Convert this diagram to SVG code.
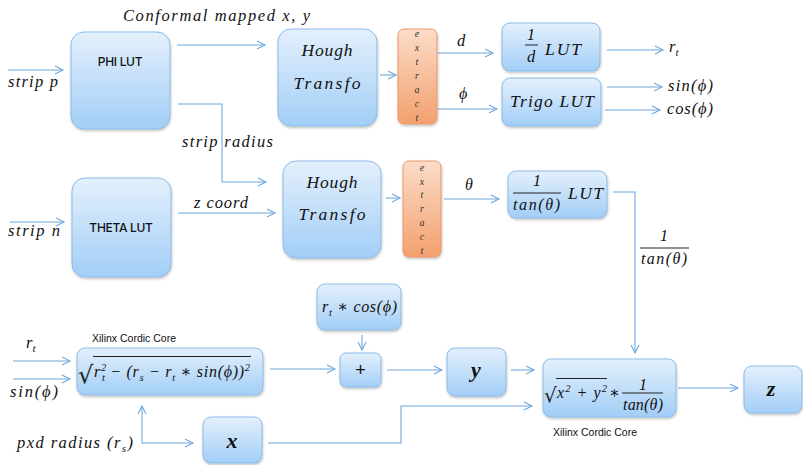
<svg xmlns="http://www.w3.org/2000/svg" width="803" height="465" viewBox="0 0 803 465">
<style>
.box{fill:url(#bg);stroke:#8cbbe6;stroke-width:1;filter:url(#sh)}
.ext{fill:url(#og);stroke:#e8986c;stroke-width:1;filter:url(#sh)}
.c{fill:none;stroke:#6fa8dc;stroke-width:1.1}
.m{font-family:"Liberation Serif","DejaVu Serif",serif;font-style:italic;fill:#111}
.s{font-family:"Liberation Sans","Open Sans",sans-serif;fill:#111}
.b{font-family:Inter,"Liberation Sans",sans-serif;font-weight:500;fill:#111}
.el{font-family:"Liberation Serif",serif;font-style:italic;font-size:10px;fill:#333;text-anchor:middle}
.fl{stroke:#222;stroke-width:1}
</style>
<defs>
<linearGradient id="bg" x1="0" y1="0" x2="0" y2="1">
<stop offset="0" stop-color="#e4f0fc"/>
<stop offset="1" stop-color="#a2cef7"/>
</linearGradient>
<linearGradient id="og" x1="0" y1="0" x2="0" y2="1">
<stop offset="0" stop-color="#fcdcc8"/>
<stop offset="1" stop-color="#f3a06e"/>
</linearGradient>
<filter id="sh" x="-20%" y="-20%" width="140%" height="150%">
<feDropShadow dx="0.5" dy="1.5" stdDeviation="1.2" flood-color="#000" flood-opacity="0.25"/>
</filter>
<marker id="a" markerUnits="userSpaceOnUse" markerWidth="12" markerHeight="12" refX="9" refY="5" orient="auto">
<path d="M1,1 L9,5 L1,9" fill="none" stroke="#6fa8dc" stroke-width="1.1"/>
</marker>
<marker id="as" markerUnits="userSpaceOnUse" markerWidth="12" markerHeight="12" refX="9" refY="5" orient="auto-start-reverse">
<path d="M1,1 L9,5 L1,9" fill="none" stroke="#6fa8dc" stroke-width="1.1"/>
</marker>
</defs>
<rect width="803" height="465" fill="#fff"/>

<g id="connectors">
<path class="c" d="M8,70 H63" marker-end="url(#a)"/>
<path class="c" d="M177,45 H265" marker-end="url(#a)"/>
<path class="c" d="M178,104 H222 V182 H266" marker-end="url(#a)"/>
<path class="c" d="M380,75 H396" marker-end="url(#a)"/>
<path class="c" d="M438,53 H493" marker-end="url(#a)"/>
<path class="c" d="M438,109 H497" marker-end="url(#a)"/>
<path class="c" d="M607,50 H663" marker-end="url(#a)"/>
<path class="c" d="M607,87 H662" marker-end="url(#a)"/>
<path class="c" d="M605,110 H660" marker-end="url(#a)"/>
<path class="c" d="M10,222 H64" marker-end="url(#a)"/>
<path class="c" d="M178,213 H275" marker-end="url(#a)"/>
<path class="c" d="M386,198 H400" marker-end="url(#a)"/>
<path class="c" d="M444,199 H499" marker-end="url(#a)"/>
<path class="c" d="M613,192 H635 V353" marker-end="url(#a)"/>
<path class="c" d="M13,361 H70" marker-end="url(#a)"/>
<path class="c" d="M13,379 H70" marker-end="url(#a)"/>
<path class="c" d="M270,369 H335" marker-end="url(#a)"/>
<path class="c" d="M362,335 V350" marker-end="url(#a)"/>
<path class="c" d="M387,370 H442" marker-end="url(#a)"/>
<path class="c" d="M511,370 H534" marker-end="url(#a)"/>
<path class="c" d="M142,406 V443 H193" marker-start="url(#as)" marker-end="url(#a)"/>
<path class="c" d="M268,443 H401 V406 H532" marker-end="url(#a)"/>
<path class="c" d="M678,388 H738" marker-end="url(#a)"/>
</g>

<g id="labels">
<text class="m" x="123" y="21" font-size="16.5" textLength="187" lengthAdjust="spacing">Conformal mapped x, y</text>
<text class="m" x="8" y="87" font-size="16.5" textLength="50" lengthAdjust="spacing">strip p</text>
<text class="m" x="182" y="147" font-size="16.5" textLength="91" lengthAdjust="spacing">strip radius</text>
<text class="m" x="8" y="236" font-size="16.5" textLength="52" lengthAdjust="spacing">strip n</text>
<text class="m" x="194" y="208" font-size="16.5" textLength="54" lengthAdjust="spacing">z coord</text>
<text class="m" x="457" y="46" font-size="16.5">d</text>
<text class="m" x="459" y="99" font-size="16">ϕ</text>
<text class="m" x="465" y="190" font-size="16">θ</text>
<text class="m" x="669" y="52" font-size="16.5">r<tspan font-size="11" dy="4">t</tspan></text>
<text class="m" x="668" y="91" font-size="16.5" textLength="45" lengthAdjust="spacing">sin(ϕ)</text>
<text class="m" x="667" y="114" font-size="16.5" textLength="46" lengthAdjust="spacing">cos(ϕ)</text>
<text class="m" x="664" y="241" font-size="16" text-anchor="middle" font-style="normal">1</text>
<line class="fl" x1="640" y1="248" x2="689" y2="248"/>
<text class="m" x="641" y="264" font-size="16" textLength="46" lengthAdjust="spacing">tan(θ)</text>
<text class="m" x="26" y="348" font-size="16.5">r<tspan font-size="11" dy="4">t</tspan></text>
<text class="m" x="10" y="397" font-size="16.5" textLength="48" lengthAdjust="spacing">sin(ϕ)</text>
<text class="m" x="17" y="448" font-size="16.5" textLength="116" lengthAdjust="spacing">pxd radius (r<tspan font-size="11" dy="4">s</tspan><tspan dy="-4">)</tspan></text>
<text class="s" x="92" y="342" font-size="10.5">Xilinx Cordic Core</text>
<text class="s" x="553" y="436" font-size="10.5">Xilinx Cordic Core</text>
</g>

<g id="phi-lut">
<rect class="box" x="71" y="32" width="99" height="97" rx="13"/>
<text class="b" x="120" y="66" font-size="12" text-anchor="middle" letter-spacing="-0.3">PHI LUT</text>
</g>
<g id="theta-lut">
<rect class="box" x="72" y="178" width="99" height="99" rx="13"/>
<text class="b" x="121" y="232" font-size="12" text-anchor="middle" letter-spacing="-0.3">THETA LUT</text>
</g>
<g id="hough1">
<rect class="box" x="278" y="29" width="99" height="97" rx="13"/>
<text class="m" x="327" y="56" font-size="17.5" text-anchor="middle" textLength="51" lengthAdjust="spacing">Hough</text>
<text class="m" x="327" y="89" font-size="17.5" text-anchor="middle" textLength="67" lengthAdjust="spacing">Transfo</text>
</g>
<g id="hough2">
<rect class="box" x="283" y="161" width="98" height="97" rx="13"/>
<text class="m" x="332" y="188" font-size="17.5" text-anchor="middle" textLength="51" lengthAdjust="spacing">Hough</text>
<text class="m" x="332" y="220" font-size="17.5" text-anchor="middle" textLength="67" lengthAdjust="spacing">Transfo</text>
</g>
<g id="extract1">
<rect class="ext" x="398" y="29" width="39" height="95" rx="6"/>
<text class="el" x="417" y="37">e</text>
<text class="el" x="417" y="51">x</text>
<text class="el" x="417" y="65">t</text>
<text class="el" x="417" y="79">r</text>
<text class="el" x="417" y="93">a</text>
<text class="el" x="417" y="107">c</text>
<text class="el" x="417" y="121">t</text>
</g>
<g id="extract2">
<rect class="ext" x="403" y="161" width="38" height="96" rx="6"/>
<text class="el" x="422" y="171">e</text>
<text class="el" x="422" y="185">x</text>
<text class="el" x="422" y="198">t</text>
<text class="el" x="422" y="212">r</text>
<text class="el" x="422" y="226">a</text>
<text class="el" x="422" y="240">c</text>
<text class="el" x="422" y="254">t</text>
</g>
<g id="inv-d-lut">
<rect class="box" x="502" y="23" width="98" height="48" rx="8"/>
<text class="m" x="531" y="40" font-size="16" text-anchor="middle" font-style="normal">1</text>
<line class="fl" x1="525" y1="45" x2="538" y2="45"/>
<text class="m" x="531" y="62" font-size="16.5" text-anchor="middle">d</text>
<text class="m" x="545" y="55" font-size="17.5" textLength="36" lengthAdjust="spacing">LUT</text>
</g>
<g id="trigo-lut">
<rect class="box" x="502" y="78" width="99" height="48" rx="8"/>
<text class="m" x="510" y="107" font-size="17.5" textLength="84" lengthAdjust="spacing">Trigo LUT</text>
</g>
<g id="inv-tan-lut">
<rect class="box" x="508" y="171" width="99" height="47" rx="8"/>
<text class="m" x="537" y="186" font-size="16" text-anchor="middle" font-style="normal">1</text>
<line class="fl" x1="513" y1="193" x2="561" y2="193"/>
<text class="m" x="513" y="210" font-size="16" textLength="47" lengthAdjust="spacing">tan(θ)</text>
<text class="m" x="568" y="199" font-size="17.5" textLength="35" lengthAdjust="spacing">LUT</text>
</g>
<g id="rt-cos">
<rect class="box" x="317" y="284" width="84" height="46" rx="8"/>
<text class="m" x="322" y="312" font-size="16" textLength="75" lengthAdjust="spacing">r<tspan font-size="10.5" dy="4">t</tspan><tspan dy="-4"> ∗ cos(ϕ)</tspan></text>
</g>
<g id="plus">
<rect class="box" x="340" y="353" width="41" height="34" rx="6"/>
<text class="s" x="360.5" y="376" font-size="18" text-anchor="middle">+</text>
</g>
<g id="sqrt-core">
<rect class="box" x="77" y="348" width="186" height="47" rx="8"/>
<text x="78" y="383" font-family="DejaVu Serif,serif" font-size="24" fill="#222">√</text>
<line class="fl" x1="93" y1="356.5" x2="251" y2="356.5"/>
<text class="m" x="94" y="377" font-size="16" textLength="156" lengthAdjust="spacing">r<tspan font-size="10.5" dy="-6">2</tspan><tspan font-size="10.5" dx="-5" dy="10">t</tspan><tspan dy="-4"> − (r</tspan><tspan font-size="10.5" dy="4">s</tspan><tspan dy="-4"> − r</tspan><tspan font-size="10.5" dy="4">t</tspan><tspan dy="-4"> ∗ sin(ϕ))</tspan><tspan font-size="10.5" dy="-6">2</tspan></text>
</g>
<g id="x-node">
<rect class="box" x="203" y="417" width="59" height="46" rx="8"/>
<text class="m" x="232" y="448" font-size="22" font-weight="bold" text-anchor="middle">x</text>
</g>
<g id="y-node">
<rect class="box" x="447" y="348" width="59" height="48" rx="8"/>
<text class="m" x="476" y="377" font-size="22" font-weight="bold" text-anchor="middle">y</text>
</g>
<g id="z-core">
<rect class="box" x="543" y="359" width="133" height="58" rx="8"/>
<text x="544" y="402" font-family="DejaVu Serif,serif" font-size="20" fill="#222">√</text>
<line class="fl" x1="556" y1="378.5" x2="607" y2="378.5"/>
<text class="m" x="557" y="398" font-size="16" textLength="50" lengthAdjust="spacing">x<tspan font-size="10.5" dy="-6">2</tspan><tspan dy="6"> + y</tspan><tspan font-size="10.5" dy="-6">2</tspan></text>
<text class="m" x="609" y="398" font-size="16">∗</text>
<text class="m" x="643" y="390" font-size="16" text-anchor="middle" font-style="normal">1</text>
<line class="fl" x1="622" y1="393" x2="663" y2="393"/>
<text class="m" x="623" y="410" font-size="16" textLength="40" lengthAdjust="spacing">tan(θ)</text>
</g>
<g id="z-node">
<rect class="box" x="744" y="366" width="58" height="47" rx="8"/>
<text class="m" x="771" y="396" font-size="22" font-weight="bold" text-anchor="middle">z</text>
</g>
</svg>
